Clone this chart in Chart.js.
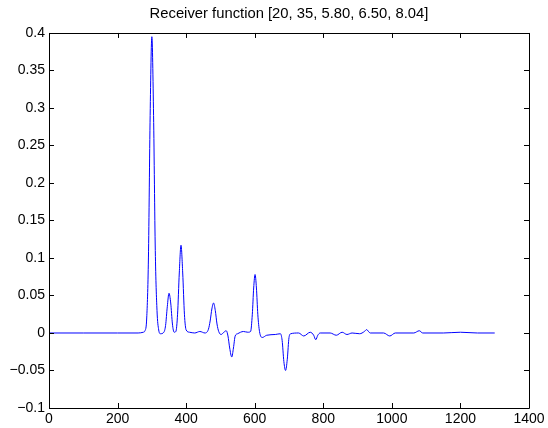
<!DOCTYPE html>
<html>
<head>
<meta charset="utf-8">
<script src="https://cdn.jsdelivr.net/npm/chart.js@4/dist/chart.umd.min.js"></script>
<style>
html, body { margin: 0; padding: 0; background: #fff; }
</style>
</head>
<body>
<canvas id="rf-chart" width="548" height="428"></canvas>
<script>
const titleText = 'Receiver function [20, 35, 5.80, 6.50, 8.04]';

// sample positions and amplitudes
const timeSamples = [0, 100, 200, 260, 275, 280, 285, 290, 295, 300, 305, 310, 315, 320, 325, 335, 340, 345, 350, 355, 360, 365, 370, 375, 380, 385, 390, 395, 400, 410, 425, 440, 455, 465, 470, 475, 480, 485, 490, 495, 502, 510, 517, 522, 527, 533, 538, 543, 550, 567, 580, 588, 593, 597, 601, 605, 609, 614, 622, 635, 660, 675, 680, 685, 690, 695, 700, 705, 728, 743, 762, 772, 778, 784, 791, 820, 838, 855, 869, 884, 906, 920, 926, 937, 976, 994, 1010, 1064, 1080, 1090, 1150, 1200, 1250, 1300];
const amplitudes = [0, 0, 0, 0, 0.001, 0.003, 0.02, 0.1, 0.29, 0.395, 0.29, 0.11, 0.03, 0.004, -0.001, 0.001, 0.01, 0.035, 0.053, 0.04, 0.012, 0.001, 0.002, 0.025, 0.08, 0.117, 0.08, 0.025, 0.004, 0.001, 0, 0.002, 0, 0.005, 0.016, 0.032, 0.04, 0.03, 0.012, 0.002, -0.002, 0.001, 0.003, -0.004, -0.02, -0.032, -0.02, -0.004, -0.001, 0.002, 0.001, 0.002, 0.025, 0.06, 0.078, 0.06, 0.025, 0.002, -0.006, -0.003, -0.002, -0.001, -0.01, -0.038, -0.05, -0.035, -0.006, -0.001, 0, -0.004, 0.001, -0.003, -0.009, -0.003, 0, 0, -0.003, 0.001, -0.002, 0, -0.001, 0.002, 0.0045, 0, 0, -0.004, 0, 0, 0.003, 0, 0, 0.001, 0, 0];

const xTicks = [0, 200, 400, 600, 800, 1000, 1200, 1400];
const yTicks = [-0.1, -0.05, 0, 0.05, 0.1, 0.15, 0.2, 0.25, 0.3, 0.35, 0.4];

const fontFamily = '"Liberation Sans", Arial, sans-serif';

// matlab style box with inward ticks on all four sides
const boxPlugin = {
    id: 'boxTicks',
    afterDraw(chart) {
        const ctx = chart.ctx;
        const area = chart.chartArea;
        const xs = chart.scales.x;
        const ys = chart.scales.y;
        const len = 5;
        ctx.save();
        ctx.strokeStyle = '#000';
        ctx.lineWidth = 1;
        ctx.beginPath();
        ctx.rect(Math.round(area.left) + 0.5, Math.round(area.top) + 0.5,
                 Math.round(area.right - area.left), Math.round(area.bottom - area.top));
        xTicks.forEach(v => {
            const px = Math.round(xs.getPixelForValue(v)) + 0.5;
            ctx.moveTo(px, area.bottom);
            ctx.lineTo(px, area.bottom - len);
            ctx.moveTo(px, area.top);
            ctx.lineTo(px, area.top + len);
        });
        yTicks.forEach(v => {
            const py = Math.round(ys.getPixelForValue(v)) + 0.5;
            ctx.moveTo(area.left, py);
            ctx.lineTo(area.left + len, py);
            ctx.moveTo(area.right, py);
            ctx.lineTo(area.right - len, py);
        });
        ctx.stroke();
        ctx.restore();
    }
};

function fmt(v) {
    return v < 0 ? '\u2212' + String(-v) : String(v);
}

new Chart(document.getElementById('rf-chart').getContext('2d'), {
    type: 'line',
    data: {
        datasets: [{
            data: timeSamples.map((t, i) => ({ x: t, y: amplitudes[i] })),
            borderColor: '#0000ff',
            borderWidth: 1,
            pointRadius: 0,
            fill: false,
            cubicInterpolationMode: 'monotone'
        }]
    },
    options: {
        responsive: false,
        animation: false,
        layout: { padding: { left: 0, right: 19, top: 0, bottom: 0 } },
        plugins: {
            legend: { display: false },
            tooltip: { enabled: false },
            title: {
                display: true,
                fullSize: false,
                text: titleText,
                color: '#000',
                font: { family: fontFamily, size: 14.8, weight: 'normal' },
                padding: { top: 5.2, bottom: 10.0 }
            }
        },
        scales: {
            x: {
                type: 'linear',
                min: 0,
                max: 1400,
                afterBuildTicks: scale => { scale.ticks = xTicks.map(v => ({ value: v })); },
                afterFit: scale => { scale.height = 20; },
                grid: { display: false, drawTicks: false },
                border: { display: false },
                ticks: {
                    color: '#000',
                    padding: 3,
                    maxRotation: 0,
                    font: { family: fontFamily, size: 14 },
                    callback: v => fmt(v)
                }
            },
            y: {
                type: 'linear',
                min: -0.1,
                max: 0.4,
                afterBuildTicks: scale => { scale.ticks = yTicks.map(v => ({ value: v })); },
                afterFit: scale => { scale.width = 49; },
                grid: { display: false, drawTicks: false },
                border: { display: false },
                ticks: {
                    color: '#000',
                    padding: 4,
                    font: { family: fontFamily, size: 14 },
                    callback: v => fmt(v)
                }
            }
        }
    },
    plugins: [boxPlugin]
});
</script>
</body>
</html>
